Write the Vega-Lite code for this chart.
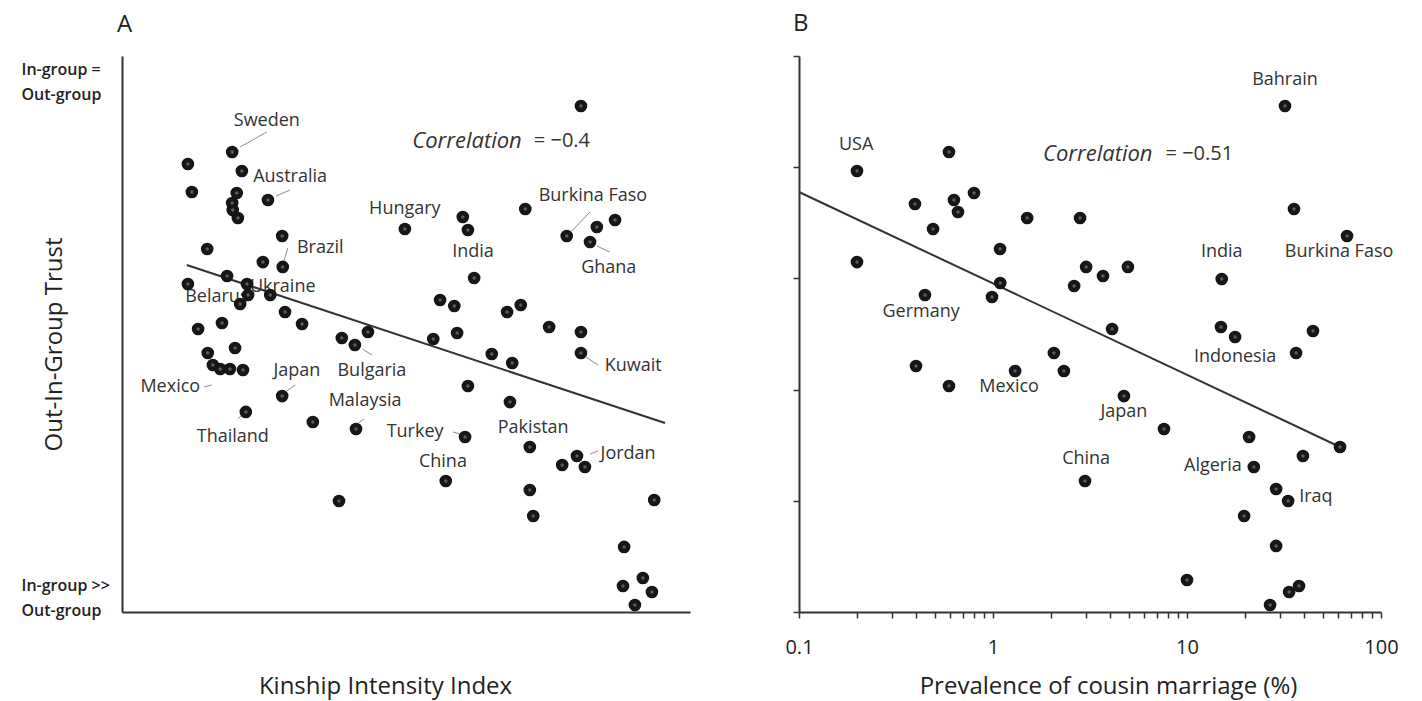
{
  "$schema": "https://vega.github.io/schema/vega-lite/v6.json",
  "background": "white",
  "padding": {"left": 21, "top": 12, "right": 5, "bottom": 5},
  "spacing": 94,
  "config": {
    "view": {"stroke": null},
    "axis": {"grid": false, "domainColor": "#333333", "domainWidth": 2, "labelFont": "Open Sans", "titleFont": "Open Sans", "labelColor": "#222222", "titleColor": "#222222", "titleFontWeight": "normal"},
    "title": {"font": "Open Sans", "fontSize": 24, "fontWeight": "normal", "anchor": "start", "color": "#222222", "frame": "group"}
  },
  "datasets": {
    "pointsA": [
      {"x":0.194,"y":4.137},{"x":0.116,"y":4.029},{"x":0.211,"y":3.966},{"x":0.123,"y":3.777},{"x":0.202,"y":3.768},{"x":0.194,"y":3.678},{"x":0.195,"y":3.615},{"x":0.204,"y":3.543},{"x":0.257,"y":3.705},{"x":0.282,"y":3.381},{"x":0.150,"y":3.264},{"x":0.248,"y":3.147},{"x":0.283,"y":3.103},{"x":0.116,"y":2.950},{"x":0.185,"y":3.022},{"x":0.220,"y":2.950},{"x":0.222,"y":2.851},{"x":0.208,"y":2.770},{"x":0.261,"y":2.851},{"x":0.287,"y":2.698},{"x":0.317,"y":2.590},{"x":0.134,"y":2.545},{"x":0.176,"y":2.599},{"x":0.387,"y":2.464},{"x":0.410,"y":2.401},{"x":0.433,"y":2.518},{"x":0.151,"y":2.329},{"x":0.199,"y":2.374},{"x":0.160,"y":2.221},{"x":0.173,"y":2.185},{"x":0.190,"y":2.185},{"x":0.213,"y":2.176},{"x":0.282,"y":1.942},{"x":0.218,"y":1.799},{"x":0.336,"y":1.709},{"x":0.412,"y":1.646},{"x":0.382,"y":0.998},{"x":0.808,"y":4.550},{"x":0.710,"y":3.624},{"x":0.498,"y":3.444},{"x":0.600,"y":3.552},{"x":0.609,"y":3.435},{"x":0.783,"y":3.381},{"x":0.836,"y":3.462},{"x":0.868,"y":3.525},{"x":0.824,"y":3.327},{"x":0.620,"y":3.004},{"x":0.560,"y":2.806},{"x":0.585,"y":2.752},{"x":0.678,"y":2.698},{"x":0.702,"y":2.761},{"x":0.752,"y":2.563},{"x":0.808,"y":2.518},{"x":0.808,"y":2.329},{"x":0.548,"y":2.455},{"x":0.590,"y":2.509},{"x":0.651,"y":2.320},{"x":0.687,"y":2.239},{"x":0.609,"y":2.032},{"x":0.683,"y":1.888},{"x":0.604,"y":1.574},{"x":0.570,"y":1.178},{"x":0.718,"y":1.484},{"x":0.775,"y":1.322},{"x":0.801,"y":1.403},{"x":0.815,"y":1.304},{"x":0.718,"y":1.097},{"x":0.724,"y":0.863},{"x":0.937,"y":1.007},{"x":0.884,"y":0.585},{"x":0.882,"y":0.234},{"x":0.917,"y":0.306},{"x":0.933,"y":0.180},{"x":0.903,"y":0.063}
    ],
    "labelsA": [
      {"x":0.255,"y":4.415,"label":"Sweden"},{"x":0.296,"y":3.912,"label":"Australia"},{"x":0.349,"y":3.273,"label":"Brazil"},{"x":0.283,"y":2.923,"label":"Ukraine"},{"x":0.167,"y":2.833,"label":"Belarus"},{"x":0.498,"y":3.624,"label":"Hungary"},{"x":0.618,"y":3.237,"label":"India"},{"x":0.829,"y":3.741,"label":"Burkina Faso"},{"x":0.857,"y":3.094,"label":"Ghana"},{"x":0.900,"y":2.212,"label":"Kuwait"},{"x":0.308,"y":2.167,"label":"Japan"},{"x":0.440,"y":2.167,"label":"Bulgaria"},{"x":0.085,"y":2.023,"label":"Mexico"},{"x":0.195,"y":1.574,"label":"Thailand"},{"x":0.428,"y":1.897,"label":"Malaysia"},{"x":0.516,"y":1.619,"label":"Turkey"},{"x":0.565,"y":1.349,"label":"China"},{"x":0.724,"y":1.655,"label":"Pakistan"},{"x":0.891,"y":1.421,"label":"Jordan"}
    ],
    "leadersA": [
      {"x":0.208,"y":4.182,"x2":0.255,"y2":4.317},{"x":0.271,"y":3.741,"x2":0.296,"y2":3.795},{"x":0.285,"y":3.157,"x2":0.292,"y2":3.273},{"x":0.792,"y":3.426,"x2":0.824,"y2":3.597},{"x":0.836,"y":3.291,"x2":0.859,"y2":3.237},{"x":0.817,"y":2.293,"x2":0.838,"y2":2.221},{"x":0.824,"y":1.421,"x2":0.838,"y2":1.448},{"x":0.290,"y":1.987,"x2":0.305,"y2":2.041},{"x":0.423,"y":2.365,"x2":0.440,"y2":2.311},{"x":0.144,"y":2.023,"x2":0.158,"y2":2.041},{"x":0.204,"y":1.736,"x2":0.215,"y2":1.790},{"x":0.414,"y":1.691,"x2":0.426,"y2":1.736},{"x":0.583,"y":1.619,"x2":0.595,"y2":1.601}
    ],
    "fitA": [{"x":0.114,"y":3.121},{"x":0.956,"y":1.700}],
    "pointsB": [
      {"x":0.199,"y":3.966},{"x":0.593,"y":4.137},{"x":0.396,"y":3.669},{"x":0.629,"y":3.705},{"x":0.660,"y":3.597},{"x":0.798,"y":3.768},{"x":0.491,"y":3.444},{"x":1.50,"y":3.543},{"x":2.81,"y":3.543},{"x":0.199,"y":3.147},{"x":1.087,"y":3.264},{"x":3.02,"y":3.103},{"x":3.69,"y":3.022},{"x":4.96,"y":3.103},{"x":1.09,"y":2.959},{"x":2.62,"y":2.932},{"x":0.446,"y":2.851},{"x":0.988,"y":2.833},{"x":32.0,"y":4.550},{"x":35.6,"y":3.624},{"x":66.8,"y":3.381},{"x":15.1,"y":2.995},{"x":14.96,"y":2.563},{"x":17.7,"y":2.473},{"x":44.6,"y":2.527},{"x":4.11,"y":2.545},{"x":36.5,"y":2.329},{"x":0.401,"y":2.212},{"x":0.593,"y":2.032},{"x":1.30,"y":2.167},{"x":2.06,"y":2.329},{"x":2.32,"y":2.167},{"x":4.73,"y":1.942},{"x":7.61,"y":1.646},{"x":20.9,"y":1.574},{"x":61.5,"y":1.484},{"x":39.6,"y":1.403},{"x":22.1,"y":1.304},{"x":2.98,"y":1.178},{"x":28.8,"y":1.106},{"x":33.2,"y":0.998},{"x":19.7,"y":0.863},{"x":28.8,"y":0.594},{"x":10.0,"y":0.288},{"x":33.6,"y":0.180},{"x":37.8,"y":0.234},{"x":26.8,"y":0.063}
    ],
    "labelsB": [
      {"x":0.197,"y":4.200,"label":"USA"},{"x":0.426,"y":2.698,"label":"Germany"},{"x":1.21,"y":2.023,"label":"Mexico"},{"x":32.0,"y":4.784,"label":"Bahrain"},{"x":15.1,"y":3.237,"label":"India"},{"x":60.8,"y":3.237,"label":"Burkina Faso"},{"x":17.7,"y":2.293,"label":"Indonesia"},{"x":4.73,"y":1.799,"label":"Japan"},{"x":13.6,"y":1.313,"label":"Algeria"},{"x":46.2,"y":1.034,"label":"Iraq"},{"x":3.02,"y":1.376,"label":"China"}
    ],
    "fitB": [{"x":0.1,"y":3.777},{"x":61.5,"y":1.484}]
  },
  "hconcat": [
    {
      "width": 568,
      "height": 556,
      "title": {"text": "A", "dx": -5, "offset": 19},
      "encoding": {
        "x": {"field": "x", "type": "quantitative", "scale": {"domain": [0, 1], "nice": false, "zero": false},
          "axis": {"ticks": false, "labels": false, "title": "Kinship Intensity Index", "titleFontSize": 24, "titleX": 263, "titleY": 74, "titleBaseline": "middle", "titleAlign": "center"}},
        "y": {"field": "y", "type": "quantitative", "scale": {"domain": [0, 5], "nice": false, "zero": false},
          "axis": {"values": [4.883, 0.234], "labelExpr": "datum.value > 2 ? ['In-group =', 'Out-group'] : ['In-group >>', 'Out-group']", "ticks": false, "labelAlign": "left", "labelPadding": 101, "labelFontSize": 16, "labelFontWeight": 600, "labelLineHeight": 25, "labelBaseline": "middle", "labelBound": false, "labelOverlap": false, "labelFlush": false, "title": "Out-In-Group Trust", "titleFontSize": 24, "titleX": -68, "titleY": 288, "titleAngle": -90, "titleBaseline": "middle", "titleAlign": "center"}}
      },
      "layer": [
        {"data": {"name": "leadersA"}, "mark": {"type": "rule", "color": "#8c8c8c", "strokeWidth": 1}, "encoding": {"x2": {"field": "x2"}, "y2": {"field": "y2"}}},
        {"data": {"name": "fitA"}, "mark": {"type": "line", "color": "#333333", "strokeWidth": 2}, "encoding": {}},
        {"data": {"name": "labelsA"}, "mark": {"type": "text", "font": "Open Sans", "fontSize": 18, "color": "#333333", "align": "center", "baseline": "middle"}, "encoding": {"text": {"field": "label"}}},
        {"data": {"values": [{"x": 0.511, "y": 4.236, "label": "Correlation"}]}, "mark": {"type": "text", "font": "Open Sans", "fontSize": 22, "fontStyle": "italic", "color": "#333333", "align": "left", "baseline": "middle"}, "encoding": {"text": {"field": "label"}}},
        {"data": {"values": [{"x": 0.824, "y": 4.236, "label": "= \u22120.4"}]}, "mark": {"type": "text", "font": "Open Sans", "fontSize": 20, "color": "#333333", "align": "right", "baseline": "middle"}, "encoding": {"text": {"field": "label"}}},
        {"data": {"name": "pointsA"}, "mark": {"type": "circle", "size": 160, "color": "#161616", "opacity": 1}, "encoding": {}},
        {"data": {"name": "pointsA"}, "mark": {"type": "circle", "size": 12, "color": "#5c5c5c", "opacity": 1}, "encoding": {}}
      ]
    },
    {
      "width": 582,
      "height": 556,
      "title": {"text": "B", "dx": -6, "offset": 19},
      "encoding": {
        "x": {"field": "x", "type": "quantitative", "scale": {"type": "log", "domain": [0.1, 100], "nice": false},
          "axis": {"values": [0.1,0.2,0.3,0.4,0.5,0.6,0.7,0.8,0.9,1,2,3,4,5,6,7,8,9,10,20,30,40,50,60,70,80,90,100], "labelExpr": "datum.value == 0.1 || datum.value == 1 || datum.value == 10 || datum.value == 100 ? datum.value + '' : ''", "tickSize": 6, "tickColor": "#333333", "tickWidth": 1.5, "labelFontSize": 20, "labelPadding": 19, "labelOverlap": false, "labelFlush": false, "labelBound": false, "title": "Prevalence of cousin marriage (%)", "titleFontSize": 24, "titleX": 309, "titleY": 74, "titleBaseline": "middle", "titleAlign": "center"}},
        "y": {"field": "y", "type": "quantitative", "scale": {"domain": [0, 5], "nice": false, "zero": false},
          "axis": {"values": [0, 1, 2, 3, 4, 5], "labels": false, "tickSize": 6, "tickColor": "#333333", "tickWidth": 1.5, "title": null}}
      },
      "layer": [
        {"data": {"name": "fitB"}, "mark": {"type": "line", "color": "#333333", "strokeWidth": 2}, "encoding": {}},
        {"data": {"name": "labelsB"}, "mark": {"type": "text", "font": "Open Sans", "fontSize": 18, "color": "#333333", "align": "center", "baseline": "middle"}, "encoding": {"text": {"field": "label"}}},
        {"data": {"values": [{"x": 1.81, "y": 4.119, "label": "Correlation"}]}, "mark": {"type": "text", "font": "Open Sans", "fontSize": 22, "fontStyle": "italic", "color": "#333333", "align": "left", "baseline": "middle"}, "encoding": {"text": {"field": "label"}}},
        {"data": {"values": [{"x": 17.3, "y": 4.119, "label": "= \u22120.51"}]}, "mark": {"type": "text", "font": "Open Sans", "fontSize": 20, "color": "#333333", "align": "right", "baseline": "middle"}, "encoding": {"text": {"field": "label"}}},
        {"data": {"name": "pointsB"}, "mark": {"type": "circle", "size": 160, "color": "#161616", "opacity": 1}, "encoding": {}},
        {"data": {"name": "pointsB"}, "mark": {"type": "circle", "size": 12, "color": "#5c5c5c", "opacity": 1}, "encoding": {}}
      ]
    }
  ]
}
